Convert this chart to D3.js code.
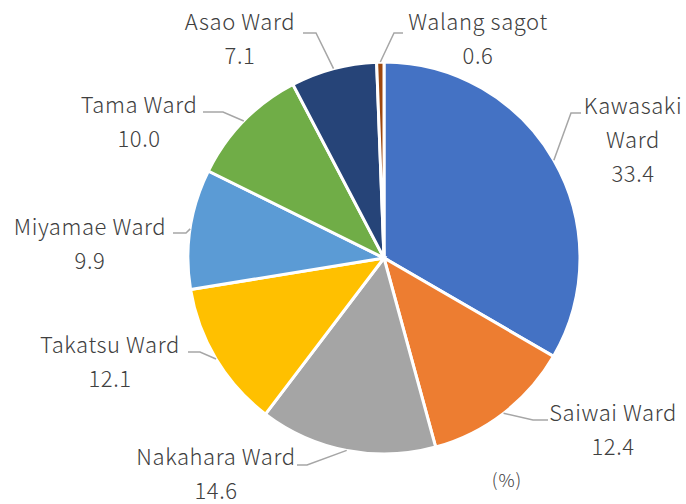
<!DOCTYPE html>
<html>
<head>
<meta charset="utf-8">
<script src="https://cdn.jsdelivr.net/npm/d3@7"></script>
<style>
  body { margin: 0; background: #fff; }
  text { font-family: "Noto Sans CJK JP", "Noto Sans", sans-serif; fill: #404040; font-weight: 300; }
</style>
</head>
<body>
<div id="container"></div>
<script>
/* CONSTANTS AND GLOBALS */
const width = 686
const height = 504
const center = { x: 384, y: 258 }
const radius = 196

// DATA (percent)
const wards = ["Kawasaki Ward", "Saiwai Ward", "Nakahara Ward", "Takatsu Ward", "Miyamae Ward", "Tama Ward", "Asao Ward", "Walang sagot"]
const shares = [33.4, 12.4, 14.6, 12.1, 9.9, 10.0, 7.1, 0.6]
const valueLabels = ["33.4", "12.4", "14.6", "12.1", "9.9", "10.0", "7.1", "0.6"]
const colors = ["#4472C4", "#ED7D31", "#A5A5A5", "#FFC000", "#5B9BD5", "#70AD47", "#264478", "#9E480E"]

// label layout: text center x, first baseline y, leader start [x,y], elbow x
const labelPos = [
  { x: 633, y: 114, lines: ["Kawasaki", "Ward"], lead: [581, 113], elbow: 571 },
  { x: 613, y: 421, lines: ["Saiwai Ward"], lead: [548, 420], elbow: 533 },
  { x: 216, y: 465, lines: ["Nakahara Ward"], lead: [297, 465], elbow: 307 },
  { x: 110, y: 353, lines: ["Takatsu Ward"], lead: [188, 352], elbow: 200 },
  { x: 90, y: 235, lines: ["Miyamae Ward"], lead: [173, 233], elbow: 186 },
  { x: 139, y: 113, lines: ["Tama Ward"], lead: [203, 112], elbow: 223 },
  { x: 240, y: 30, lines: ["Asao Ward"], lead: [303, 33], elbow: 316 },
  { x: 478, y: 30, lines: ["Walang sagot"], lead: [403, 33], elbow: 394 },
]
const lineGap = 34

const svg = d3.select("#container")
  .append("svg")
  .attr("width", width)
  .attr("height", height)

const g = svg.append("g")
  .attr("transform", `translate(${center.x}, ${center.y})`)

const pie = d3.pie().sort(null).value(d => d)
const arcs = pie(shares)

const arc = d3.arc().innerRadius(0).outerRadius(radius)

g.selectAll(".slice")
  .data(arcs)
  .join("path")
  .attr("class", "slice")
  .attr("d", arc)
  .attr("fill", (d, i) => colors[i])
  .attr("stroke", "#fff")
  .attr("stroke-width", 3)
  .attr("stroke-linejoin", "miter")

// LEADER LINES
svg.selectAll(".leader")
  .data(arcs)
  .join("polyline")
  .attr("class", "leader")
  .attr("fill", "none")
  .attr("stroke", "#A6A6A6")
  .attr("stroke-width", 1.5)
  .attr("points", (d, i) => {
    const p = labelPos[i]
    const a = (d.startAngle + d.endAngle) / 2
    const ex = center.x + radius * Math.sin(a)
    const ey = center.y - radius * Math.cos(a)
    return [[p.lead[0], p.lead[1]], [p.elbow, p.lead[1]], [ex, ey]].map(q => q.join(",")).join(" ")
  })

// LABELS
const labels = svg.selectAll(".label")
  .data(arcs)
  .join("text")
  .attr("class", "label")
  .attr("text-anchor", "middle")
  .attr("font-size", 22)
  .attr("letter-spacing", 0.6)

labels.each(function (d, i) {
  const p = labelPos[i]
  const t = d3.select(this)
  const rows = p.lines.concat([valueLabels[i]])
  rows.forEach((r, k) => {
    t.append("tspan")
      .attr("x", p.x)
      .attr("y", p.y + k * lineGap)
      .text(r)
  })
})

svg.append("text")
  .attr("x", 507)
  .attr("y", 487)
  .attr("text-anchor", "middle")
  .attr("font-size", 18)
  .attr("letter-spacing", 1)
  .text("(%)")
</script>
</body>
</html>
